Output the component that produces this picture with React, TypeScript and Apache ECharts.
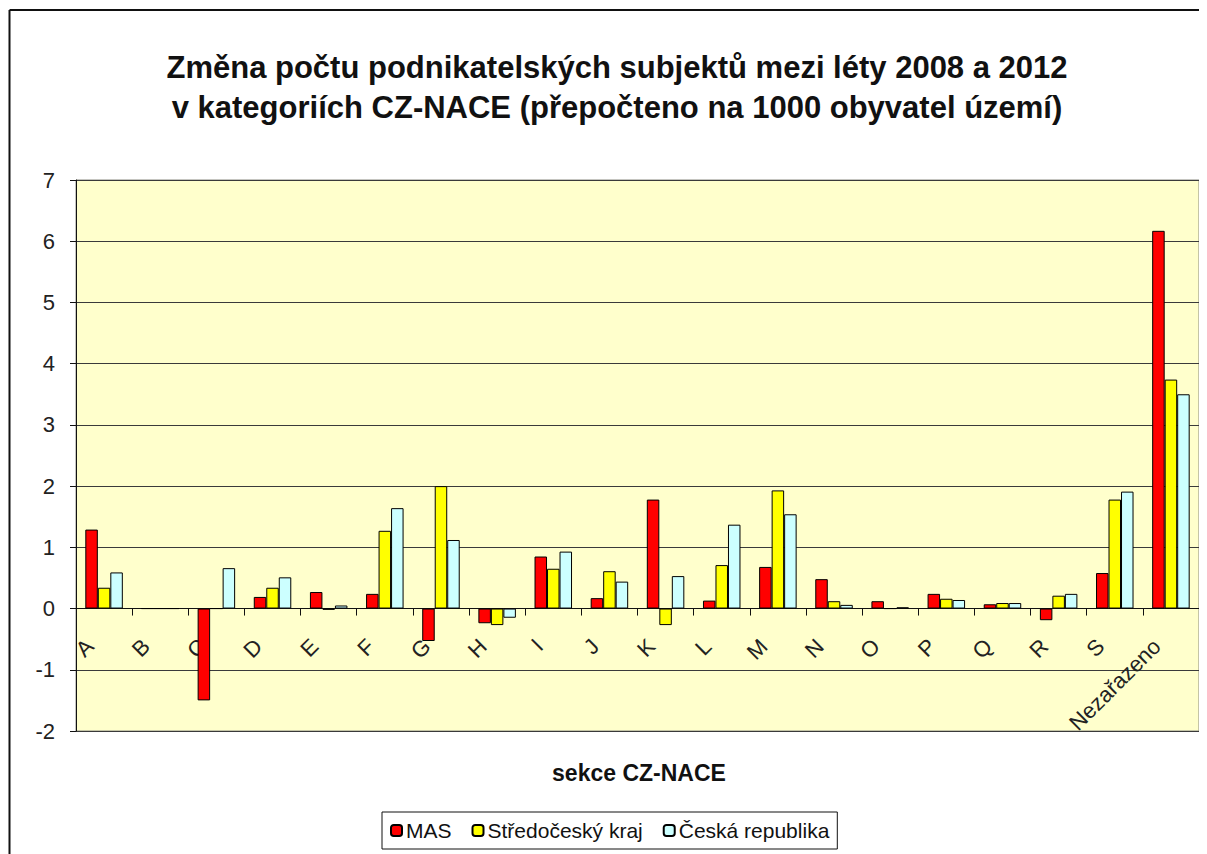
import React, { useEffect, useRef } from "react";
import * as echarts from "echarts";

const categories = ["A", "B", "C", "D", "E", "F", "G", "H", "I", "J", "K", "L", "M", "N", "O", "P", "Q", "R", "S", "Nezařazeno"];
const mas = [1.29, 0, -1.5, 0.19, 0.27, 0.24, -0.53, -0.24, 0.85, 0.17, 1.78, 0.13, 0.68, 0.48, 0.12, 0.24, 0.07, -0.19, 0.58, 6.17];
const stredocesky = [0.34, 0, 0, 0.34, -0.02, 1.27, 2.0, -0.27, 0.65, 0.61, -0.27, 0.71, 1.93, 0.12, 0, 0.16, 0.09, 0.21, 1.78, 3.74];
const cr = [0.59, 0, 0.66, 0.51, 0.05, 1.64, 1.12, -0.15, 0.93, 0.44, 0.53, 1.37, 1.54, 0.06, 0.02, 0.14, 0.09, 0.24, 1.91, 3.5];
const seriesNames = ["MAS", "Středočeský kraj", "Česká republika"];
const yTicks = { min: -2, max: 7, interval: 1 };

const FONT = "'Liberation Sans', Arial, sans-serif";
const GRID_TOP = 172;
const GRID_BOTTOM = 123;
const CHART_H = 846;

export default function App() {
  const ref = useRef<HTMLDivElement>(null);
  useEffect(() => {
    if (!ref.current) return;
    const chart = echarts.init(ref.current, undefined, { renderer: "svg" });
    const barStyle = (color: string) => ({ color, borderColor: "#000", borderWidth: 1 });
    const gridH = CHART_H - GRID_TOP - GRID_BOTTOM;
    const zeroOffset = (gridH * (0 - yTicks.min)) / (yTicks.max - yTicks.min);
    chart.setOption({
      animation: false,
      textStyle: { fontFamily: FONT },
      title: {
        text: "Změna počtu podnikatelských subjektů mezi léty 2008 a 2012\nv kategoriích CZ-NACE (přepočteno na 1000 obyvatel území)",
        left: 604,
        textAlign: "center",
        top: 34,
        textStyle: { fontFamily: FONT, fontSize: 31, fontWeight: "bold", color: "#111", lineHeight: 40 },
      },
      graphic: [
        { type: "line", shape: { x1: 1.5, y1: 2, x2: 1199, y2: 2 }, style: { stroke: "#111", lineWidth: 2 } },
        { type: "line", shape: { x1: 1.5, y1: 2, x2: 1.5, y2: 846 }, style: { stroke: "#111", lineWidth: 2 } },
        {
          type: "text",
          x: 631,
          y: 765,
          style: { text: "sekce CZ-NACE", font: `bold 23px ${FONT}`, fill: "#111", textAlign: "center", textVerticalAlign: "middle" },
        },
      ],
      legend: {
        data: seriesNames,
        left: 374,
        top: 804,
        itemWidth: 11,
        itemHeight: 11,
        itemGap: 20,
        padding: [8, 8, 8, 8],
        borderColor: "#111",
        borderWidth: 1,
        textStyle: { fontFamily: FONT, fontSize: 21, color: "#111", padding: [0, 0, 0, -1] },
      },
      grid: {
        left: 68,
        top: GRID_TOP,
        right: 8,
        bottom: GRID_BOTTOM,
        show: true,
        backgroundColor: "#FFFFCC",
        borderColor: "#8a8a80",
        borderWidth: 1,
      },
      xAxis: {
        type: "category",
        data: categories,
        offset: -zeroOffset,
        axisLine: { show: true, onZero: false, lineStyle: { color: "#111", width: 1 } },
        axisTick: { show: true, length: 7, lineStyle: { color: "#111" } },
        axisLabel: { rotate: 45, fontSize: 22, color: "#222", fontFamily: FONT, margin: 20, interval: 0, padding: [0, 20, 0, 0] },
        splitLine: { show: false },
      },
      yAxis: {
        type: "value",
        min: yTicks.min,
        max: yTicks.max,
        interval: yTicks.interval,
        axisLine: { show: true, lineStyle: { color: "#111", width: 1 } },
        axisTick: { show: true, length: 6, lineStyle: { color: "#111" } },
        axisLabel: { fontSize: 22, color: "#222", fontFamily: FONT, margin: 21 },
        splitLine: { show: true, lineStyle: { color: "#3a3a3a", width: 1 } },
      },
      series: [
        { name: seriesNames[0], type: "bar", data: mas, barWidth: 12.5, barGap: "0%", itemStyle: barStyle("#FF0000") },
        { name: seriesNames[1], type: "bar", data: stredocesky, barWidth: 12.5, barGap: "0%", itemStyle: barStyle("#FFFF00") },
        { name: seriesNames[2], type: "bar", data: cr, barWidth: 12.5, barGap: "0%", itemStyle: barStyle("#CCFFFF") },
      ],
    });
    return () => chart.dispose();
  }, []);
  return <div ref={ref} style={{ width: 1199, height: CHART_H }} />;
}
